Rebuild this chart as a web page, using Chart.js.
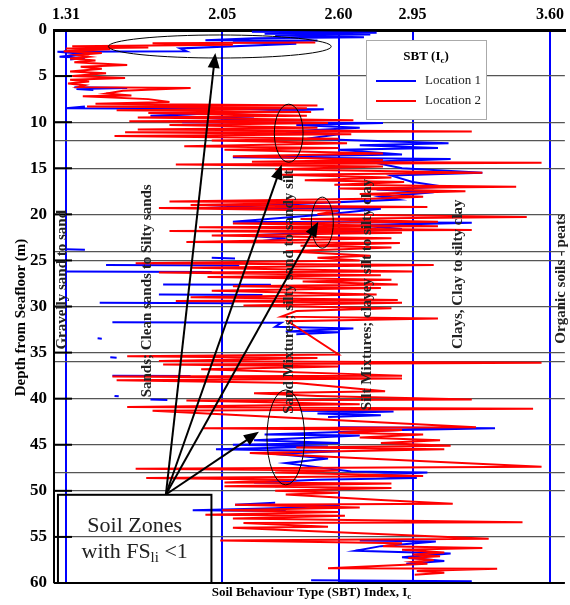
<!DOCTYPE html>
<html>
<head>
<meta charset="utf-8">
<script src="https://cdn.jsdelivr.net/npm/chart.js@4.4.1/dist/chart.umd.min.js"></script>
<style>
  html, body { margin: 0; padding: 0; background: #fff; }
  canvas { display: block; }
</style>
</head>
<body>
<canvas id="sbt" width="570" height="605"></canvas>
<script>
// SBT index (Ic) against depth for two CPT locations.
// null entries break the trace (no reading over that interval).

const icTicks = [1.31, 2.05, 2.60, 2.95, 3.60];
const depthTicks = [0, 5, 10, 12, 15, 20, 24, 25, 30, 35, 36, 40, 45, 48, 50, 55, 60];

const seriesNames = ['Location 1', 'Location 2'];

const depth1 = [
  0.2, 0.3, 0.4, 0.5, 0.6, 0.8, 0.9, 1.1, 1.15, 1.3,
  1.5, 2.0, 2.3, 2.35, 2.6, 2.9, 3.0, 3.2, null,
  6.2, 6.3, 6.4, 6.5, null,
  8.3, 8.5, 8.6, 8.8, 9.3, 9.6, 10.0, 10.1, 10.3, 10.6,
  11.0, 11.3, 11.8, 12.3, 12.5, 12.8, 13.0, 13.5, 13.8, 14.0,
  14.3, 15.0, 15.5, 15.8, 16.5, 17.0, 17.3, 17.6, 18.1, 18.4,
  19.3, 19.4, 20.0, 20.8, 20.9, 21.2, 21.6, 22.0, 22.3, 22.6,
  23.0, null, 23.8, 23.85, null, 24.7, 24.8, null, 25.5, 25.55, null, 26.2, 26.25, null,
  27.6, 27.65, null, 28.7, 28.75, null, 29.6, 29.65, null,
  31.7, 31.75, 32.2, 32.4, 32.7, 32.8, 33.0, null,
  33.45, 33.5, null, 35.5, 35.55, null, 37.5, 37.55, null, 39.7, 39.75, null, 40.1, 40.15, null,
  41.3, 41.4, 41.6, 41.8, 42.0, null,
  43.1, 43.2, 43.4, 43.9, 44.0, 44.5, 44.8, 45.0, 45.2, 45.5,
  45.7, 46.0, 46.5, 47.0, 47.9, 48.0, 48.3, 48.6, 48.8, 49.1,
  49.2, 49.5, null,
  51.3, 51.5, 51.6, 51.9, 52.1, 52.2, null,
  55.4, 55.5, 56.0, 56.5, 56.8, 57.2, 57.6, 57.9, null,
  59.7, 59.8, 59.9
];
const ic1 = [
  2.19, 2.78, 2.25, 2.75, 2.30, 2.72, 2.20, 1.97, 2.50, 2.10,
  2.40, 1.85, 1.88, 1.27, 1.40, 1.28, 1.40, 1.33, null,
  1.35, 1.60, 1.36, 1.44, null,
  1.40, 1.31, 2.53, 2.30, 1.71, 2.20, 1.86, 2.81, 2.40, 2.70,
  2.35, 2.60, 2.45, 3.12, 2.70, 3.07, 2.60, 2.90, 2.10, 3.13,
  2.75, 2.90, 3.28, 2.85, 2.95, 3.10, 2.78, 3.05, 2.80, 2.88,
  1.97, 2.80, 2.55, 2.10, 3.23, 2.70, 2.90, 2.50, 2.15, 2.35,
  2.20, null, 1.31, 1.40, null, 2.00, 2.11, null, 1.50, 2.13, null, 1.31, 2.00, null,
  1.77, 2.28, null, 1.75, 2.24, null, 1.47, 2.10, null,
  1.53, 2.33, 2.30, 2.67, 2.35, 2.60, 2.40, null,
  1.46, 1.48, null, 1.52, 1.55, null, 1.53, 1.90, null, 1.54, 1.56, null, 1.71, 1.79, null,
  2.42, 2.86, 2.50, 2.80, 2.55, null,
  2.60, 3.34, 2.90, 2.25, 2.70, 2.20, 2.60, 2.10, 2.55, 2.02,
  2.60, 2.30, 2.55, 2.35, 2.66, 3.02, 2.70, 2.97, 2.50, 2.20,
  2.50, 2.30, null,
  2.30, 2.11, 2.60, 2.30, 1.91, 2.35, null,
  2.70, 3.06, 2.80, 2.68, 3.13, 2.90, 3.10, 2.92, null,
  2.47, 3.23, 2.60
];

const depth2 = [
  1.35, 1.45, 1.6, 1.75, 1.9, 2.0, 2.1, 2.3, 2.5, 2.7,
  2.9, 3.1, 3.3, 3.5, 3.8, 4.0, 4.2, 4.5, 4.7, 5.0,
  5.2, 5.4, 5.6, 5.8, 6.0, 6.2, 6.3, 6.6, 6.9, 7.1,
  7.2, 7.5, 7.8, 8.0, 8.2, 8.3, 8.5, 8.7, 8.9, 9.0,
  9.3, 9.5, 9.8, 9.9, 10.1, 10.3, 10.6, 10.8, 11.0, 11.1,
  11.3, 11.5, 11.8, 12.0, 12.3, 12.6, 12.8, 13.0, 13.4, 13.7,
  14.1, 14.3, 14.4, 14.6, 14.8, 15.1, 15.5, 15.7, 16.0, 16.3,
  16.5, 16.8, 17.0, 17.2, 17.5, 17.8, 18.1, 18.3, 18.6, 18.7,
  19.0, 19.2, 19.3, 19.6, 20.0, 20.3, 20.5, 20.8, 21.0, 21.3,
  21.4, 21.7, 21.8, 22.0, 22.3, 22.6, 23.0, 23.1, 23.4, 23.6,
  24.0, 24.5, 24.7, 25.0, 25.3, 25.5, 25.8, 26.2, 26.3, 26.6,
  26.8, 27.1, 27.3, 27.6, 27.8, 28.0, 28.3, 28.7, 29.0, 29.3,
  29.4, 29.6, 29.9, 30.2, 30.5, 31.1, 31.3, 31.6, 35.2, 35.4,
  35.6, 35.9, 36.1, 36.3, 36.5, 36.8, 37.5, 37.6, 37.8, 38.0,
  38.3, 39.2, 39.4, 39.7, 40.1, 40.2, 40.6, 40.9, 41.1, 41.3,
  43.1, 43.2, 43.4, 43.7, 43.9, 44.2, 44.5, 44.8, 45.1, 45.3,
  45.5, 45.9, 47.4, 47.6, 47.8, 48.0, 48.4, 48.6, 48.8, 49.1,
  49.2, 49.5, 49.7, 50.0, 50.2, 50.4, 51.0, 51.4, 51.5, 51.8,
  52.1, 52.3, 52.6, 52.7, 53.0, 53.4, 53.5, 53.9, 54.0, 55.2,
  55.4, 55.7, 56.0, 56.2, 56.4, 56.7, 56.9, 57.1, 57.3, 57.5,
  57.7, 57.9, 58.4, 58.45, 58.7, 58.9, 59.1
];
const ic2 = [
  2.49, 1.72, 2.10, 1.34, 1.70, 1.31, 1.52, 1.30, 1.48, 1.36,
  1.42, 1.33, 1.45, 1.35, 1.60, 1.38, 1.48, 1.33, 1.50, 1.34,
  1.59, 1.33, 1.42, 1.32, 1.40, 1.37, 1.90, 1.58, 1.50, 1.62,
  1.39, 1.70, 1.80, 1.45, 2.50, 1.41, 2.45, 1.55, 2.47, 1.70,
  2.45, 1.65, 2.67, 1.61, 2.55, 1.80, 2.50, 1.65, 3.23, 1.59,
  2.66, 1.54, 2.60, 2.00, 2.64, 1.87, 2.60, 2.06, 2.81, 2.10,
  2.81, 2.19, 3.56, 1.83, 2.81, 2.30, 3.28, 2.32, 2.85, 2.44,
  2.91, 2.58, 3.44, 2.60, 3.20, 2.70, 3.00, 2.75, 1.80, 2.61,
  1.90, 3.02, 1.75, 2.60, 2.50, 3.49, 2.42, 3.07, 2.10, 3.07,
  1.94, 3.23, 1.80, 2.90, 2.00, 2.85, 1.88, 2.89, 2.42, 2.85,
  2.35, 2.75, 2.50, 2.70, 1.64, 3.05, 1.90, 2.95, 1.75, 2.80,
  1.98, 2.85, 2.43, 2.88, 2.10, 2.80, 2.00, 2.78, 1.90, 2.88,
  1.83, 2.90, 2.15, 2.85, 2.40, 2.33, 3.07, 2.36, 2.60, 1.60,
  2.50, 1.75, 3.56, 1.77, 2.60, 1.95, 2.90, 1.53, 2.90, 1.55,
  2.40, 2.82, 2.20, 2.50, 3.23, 1.88, 2.70, 1.60, 3.52, 1.72,
  3.25, 1.96, 2.90, 2.60, 3.00, 2.70, 3.08, 2.80, 3.13, 2.40,
  3.10, 2.18, 3.56, 1.64, 2.60, 2.30, 3.00, 1.69, 2.40, 2.06,
  2.85, 2.06, 2.85, 2.30, 2.60, 2.35, 2.80, 3.14, 2.11, 2.70,
  2.05, 2.60, 1.97, 2.63, 2.10, 3.47, 2.15, 2.55, 2.10, 3.31,
  2.04, 2.90, 2.81, 3.28, 2.90, 3.10, 2.95, 3.08, 2.93, 3.05,
  2.95, 3.02, 2.55, 3.35, 2.97, 3.10, 2.96
];

// Soil behaviour zone captions, written up the chart
const zoneNames = [
  'Gravelly sand to sand',
  'Sands; Clean sands to Silty sands',
  'Sand Mixtures; silty sand to sandy silt',
  'Silt Mixtures; clayey silt to silty clay',
  'Clays, Clay to silty clay',
  'Organic soils - peats'
];

// Annotation layout (data coordinates: Ic, depth)
const zonePlace = [[1.29, 27.1], [1.694, 28.3], [2.364, 28.4], [2.734, 28.7], [3.165, 26.5], [3.652, 27.0]];
const rings = [
  { ic: 2.038, d: 1.79, rx: 0.527, ry: 1.25 },
  { ic: 2.364, d: 11.2, rx: 0.068, ry: 3.15 },
  { ic: 2.523, d: 20.9, rx: 0.052, ry: 2.77 },
  { ic: 2.35, d: 44.2, rx: 0.089, ry: 5.15 }
];
const arrowFrom = [1.783, 50.4];
const arrowTo = [[2.017, 2.5], [2.331, 14.6], [2.504, 20.8], [2.223, 43.6]];
const noteBox = { ic0: 1.2725, ic1: 1.9985, d0: 50.43, d1: 60 };

const SERIF = "'Liberation Serif', 'Times New Roman', serif";

function toPoints(depths, ics) {
  return depths.map((d, i) => (d === null ? { x: null, y: null } : { x: ics[i], y: d }));
}

function drawSubText(ctx, parts, x, y, size, bold, align) {
  // parts: [[text, isSub], ...]; drawn left to right around x
  const w = parts.map(([t, sub]) => {
    ctx.font = `${bold ? 'bold ' : ''}${sub ? Math.round(size * 0.7) : size}px ${SERIF}`;
    return ctx.measureText(t).width;
  });
  const total = w.reduce((a, b) => a + b, 0);
  let cx = align === 'left' ? x : x - total / 2;
  ctx.textAlign = 'left';
  ctx.textBaseline = 'middle';
  parts.forEach(([t, sub], i) => {
    ctx.font = `${bold ? 'bold ' : ''}${sub ? Math.round(size * 0.7) : size}px ${SERIF}`;
    ctx.fillText(t, cx, sub ? y + size * 0.3 : y);
    cx += w[i];
  });
}

const overlay = {
  id: 'sbtOverlay',
  afterDatasetsDraw(chart) {
    const { ctx, chartArea } = chart;
    const xs = chart.scales.x;
    const ys = chart.scales.y;
    const px = (v) => xs.getPixelForValue(v);
    const py = (v) => ys.getPixelForValue(v);

    ctx.save();

    // bottom frame line and inner tick marks
    ctx.strokeStyle = '#000';
    ctx.lineWidth = 2;
    ctx.beginPath();
    ctx.moveTo(chartArea.left, chartArea.bottom);
    ctx.lineTo(chartArea.right, chartArea.bottom);
    ctx.stroke();
    for (const t of depthTicks) {
      if (t % 5 !== 0 || t === 0 || t === 60) continue;
      ctx.beginPath();
      ctx.moveTo(chartArea.left, py(t));
      ctx.lineTo(chartArea.left + 18, py(t));
      ctx.stroke();
    }

    // zone captions
    ctx.fillStyle = '#222';
    ctx.font = `bold 15px ${SERIF}`;
    ctx.textAlign = 'center';
    ctx.textBaseline = 'middle';
    zoneNames.forEach((name, i) => {
      ctx.save();
      ctx.translate(px(zonePlace[i][0]), py(zonePlace[i][1]));
      ctx.rotate(-Math.PI / 2);
      ctx.fillText(name, 0, 0);
      ctx.restore();
    });

    // ellipses round the liquefiable layers
    ctx.strokeStyle = '#000';
    ctx.lineWidth = 1;
    for (const r of rings) {
      const cx = px(r.ic);
      const cy = py(r.d);
      ctx.beginPath();
      ctx.ellipse(cx, cy, Math.abs(px(r.ic + r.rx) - cx), Math.abs(py(r.d + r.ry) - cy), 0, 0, Math.PI * 2);
      ctx.stroke();
    }

    // arrows from the note box
    const ax = px(arrowFrom[0]);
    const ay = py(arrowFrom[1]);
    ctx.fillStyle = '#000';
    ctx.lineWidth = 2;
    for (const [ic, d] of arrowTo) {
      const bx = px(ic);
      const by = py(d);
      const ang = Math.atan2(by - ay, bx - ax);
      const head = 15;
      ctx.beginPath();
      ctx.moveTo(ax, ay);
      ctx.lineTo(bx - Math.cos(ang) * head * 0.8, by - Math.sin(ang) * head * 0.8);
      ctx.stroke();
      ctx.beginPath();
      ctx.moveTo(bx, by);
      ctx.lineTo(bx - head * Math.cos(ang) + 6 * Math.sin(ang), by - head * Math.sin(ang) - 6 * Math.cos(ang));
      ctx.lineTo(bx - head * Math.cos(ang) - 6 * Math.sin(ang), by - head * Math.sin(ang) + 6 * Math.cos(ang));
      ctx.closePath();
      ctx.fill();
    }

    // note box
    const bx0 = px(noteBox.ic0);
    const bx1 = px(noteBox.ic1);
    const by0 = py(noteBox.d0);
    const by1 = py(noteBox.d1);
    ctx.lineWidth = 2;
    ctx.strokeRect(bx0, by0, bx1 - bx0, by1 - by0);
    ctx.fillStyle = '#222';
    ctx.font = `22px ${SERIF}`;
    ctx.textAlign = 'center';
    ctx.textBaseline = 'middle';
    const mid = (bx0 + bx1) / 2;
    ctx.fillText('Soil Zones', mid, by0 + 31);
    drawSubText(ctx, [['with FS', false], ['li', true], [' <1', false]], mid, by0 + 57, 22, false, 'center');

    // legend
    const lx = chartArea.left + 312;
    const ly = chartArea.top + 10;
    ctx.fillStyle = '#fff';
    ctx.fillRect(lx, ly, 120, 79);
    ctx.strokeStyle = '#aaa';
    ctx.lineWidth = 1;
    ctx.strokeRect(lx + 0.5, ly + 0.5, 120, 79);
    ctx.fillStyle = '#000';
    drawSubText(ctx, [['SBT (I', false], ['c', true], [')', false]], lx + 60, ly + 17, 13, true, 'center');
    chart.data.datasets.forEach((ds, i) => {
      const yy = ly + 41 + i * 20;
      ctx.strokeStyle = ds.borderColor;
      ctx.lineWidth = 2;
      ctx.beginPath();
      ctx.moveTo(lx + 10, yy);
      ctx.lineTo(lx + 50, yy);
      ctx.stroke();
      ctx.fillStyle = '#222';
      ctx.font = `13px ${SERIF}`;
      ctx.textAlign = 'left';
      ctx.textBaseline = 'middle';
      ctx.fillText(ds.label, lx + 59, yy);
    });

    // axis titles
    ctx.fillStyle = '#000';
    drawSubText(ctx, [['Soil Behaviour Type (SBT) Index, I', false], ['c', true]],
      (chartArea.left + chartArea.right) / 2 + 2, chartArea.bottom + 10, 13, true, 'center');
    ctx.save();
    ctx.translate(21, (chartArea.top + chartArea.bottom) / 2 + 11);
    ctx.rotate(-Math.PI / 2);
    ctx.font = `bold 15px ${SERIF}`;
    ctx.textAlign = 'center';
    ctx.textBaseline = 'middle';
    ctx.fillText('Depth from Seafloor (m)', 0, 0);
    ctx.restore();

    ctx.restore();
  }
};

new Chart(document.getElementById('sbt'), {
  type: 'scatter',
  data: {
    datasets: [
      {
        label: seriesNames[0],
        data: toPoints(depth1, ic1),
        showLine: true,
        borderColor: '#0000ff',
        backgroundColor: '#0000ff',
        borderWidth: 2,
        pointRadius: 0,
        tension: 0,
        spanGaps: false,
        order: 2
      },
      {
        label: seriesNames[1],
        data: toPoints(depth2, ic2),
        showLine: true,
        borderColor: '#ff0000',
        backgroundColor: '#ff0000',
        borderWidth: 2,
        pointRadius: 0,
        tension: 0,
        spanGaps: false,
        order: 1
      }
    ]
  },
  options: {
    responsive: false,
    animation: false,
    devicePixelRatio: 1,
    layout: { padding: { left: 0, right: 0, top: 0, bottom: 22 } },
    plugins: { legend: { display: false }, tooltip: { enabled: false } },
    scales: {
      x: {
        type: 'linear',
        position: 'top',
        min: 1.2538,
        max: 3.6703,
        afterBuildTicks: (scale) => { scale.ticks = icTicks.map((v) => ({ value: v })); },
        afterFit: (scale) => { scale.height = 30; },
        ticks: {
          autoSkip: false,
          maxRotation: 0,
          padding: 6,
          color: '#000',
          font: { family: SERIF, size: 16, weight: 'bold' },
          callback: (v) => v.toFixed(2)
        },
        grid: { color: '#0000ff', lineWidth: 2, drawTicks: false },
        border: { display: true, color: '#000', width: 3 }
      },
      y: {
        type: 'linear',
        reverse: true,
        min: 0,
        max: 60,
        afterBuildTicks: (scale) => { scale.ticks = depthTicks.map((v) => ({ value: v })); },
        afterFit: (scale) => { scale.width = 54; },
        ticks: {
          autoSkip: false,
          padding: 7,
          color: '#000',
          font: { family: SERIF, size: 17, weight: 'bold' },
          callback: (v) => (v % 5 === 0 ? v : '')
        },
        grid: { color: '#555', lineWidth: 1.2, drawTicks: false },
        border: { display: true, color: '#000', width: 2 }
      }
    }
  },
  plugins: [overlay]
});
</script>
</body>
</html>
